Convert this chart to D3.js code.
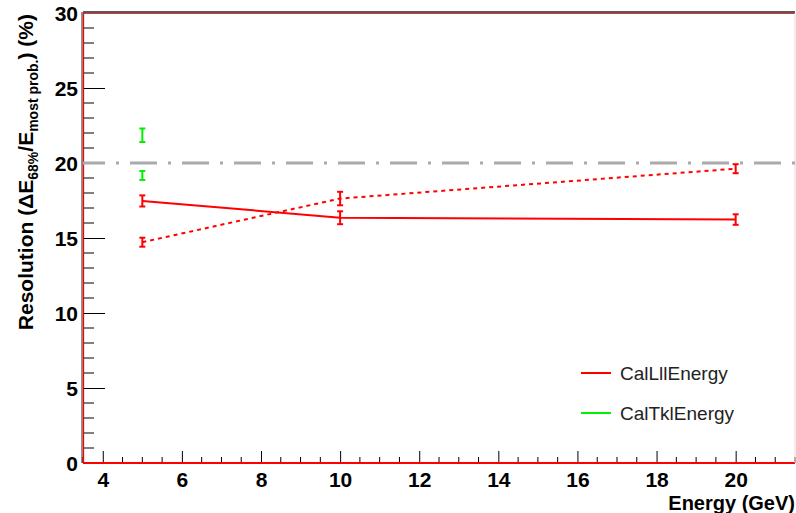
<!DOCTYPE html>
<html>
<head>
<meta charset="utf-8">
<script src="https://cdn.jsdelivr.net/npm/d3@7"></script>
<style>
  html, body { margin: 0; padding: 0; background: #fff; }
  svg { display: block; font-family: "Liberation Sans", Arial, sans-serif; }
</style>
</head>
<body>
<svg id="chart" width="796" height="513"></svg>
<script>
// Energy points (GeV)
const energies = [5, 10, 20];

// CalLllEnergy, two configurations (solid and dotted curves)
const lllSolid = [17.47, 16.35, 16.23];
const lllSolidErr = [0.37, 0.43, 0.35];
const lllDotted = [14.72, 17.63, 19.62];
const lllDottedErr = [0.3, 0.45, 0.3];

// CalTklEnergy, only measured at 5 GeV
const tklEnergies = [5, 5];
const tklValues = [21.85, 19.17];
const tklErr = [0.45, 0.3];

// Reference level (%)
const referenceLevel = 20;

const xTicks = [4, 6, 8, 10, 12, 14, 16, 18, 20];
const yTicks = [0, 5, 10, 15, 20, 25, 30];
const legendLabels = ["CalLllEnergy", "CalTklEnergy"];

const svg = d3.select("#chart");
const frame = { left: 83, right: 795, top: 13, bottom: 463 };

const x = d3.scaleLinear().domain([3.5, 21.5]).range([frame.left, frame.right]);
const y = d3.scaleLinear().domain([0, 30]).range([frame.bottom, frame.top]);

const red = "#ff0000", green = "#00f000", grey = "#aaaaaa";

// Axes: ticks point into the frame
const xMinor = d3.range(3.5, 21.51, 0.5).filter(v => !xTicks.includes(v));
const yMinor = d3.range(0, 30.01, 1).filter(v => !yTicks.includes(v));

const xAxis = svg.append("g").attr("transform", `translate(0,${frame.bottom})`)
  .call(d3.axisBottom(x).tickValues(xTicks).tickFormat(d3.format("d"))
    .tickSizeInner(-12).tickSizeOuter(0).tickPadding(0));
xAxis.append("g").selectAll("line").data(xMinor).join("line")
  .attr("x1", d => x(d)).attr("x2", d => x(d)).attr("y1", 0).attr("y2", -6)
  .attr("stroke", "#000");

const yAxis = svg.append("g").attr("transform", `translate(${frame.left},0)`)
  .call(d3.axisLeft(y).tickValues(yTicks).tickFormat(d3.format("d"))
    .tickSizeInner(-22).tickSizeOuter(0).tickPadding(5));
yAxis.append("g").selectAll("line").data(yMinor).join("line")
  .attr("x1", 0).attr("x2", 11).attr("y1", d => y(d)).attr("y2", d => y(d))
  .attr("stroke", "#000");

[xAxis, yAxis].forEach(g => {
  g.select(".domain").remove();
  g.selectAll(".tick line").attr("stroke", "#000");
  g.selectAll("text").attr("fill", "#000").style("font-size", "21px").style("font-weight", "bold");
});
// x labels: baseline about 24px below the axis
xAxis.selectAll(".tick text").attr("y", 24).attr("dy", null);
yAxis.selectAll(".tick text").attr("dy", "0.36em");

// Frame
svg.append("line").attr("x1", frame.left).attr("x2", frame.right)
  .attr("y1", frame.top - 1).attr("y2", frame.top - 1).attr("stroke", "#222").attr("stroke-width", 1.5);
svg.append("line").attr("x1", frame.left).attr("x2", frame.right)
  .attr("y1", frame.top + 0.5).attr("y2", frame.top + 0.5).attr("stroke", "#d33").attr("stroke-width", 1);
svg.append("line").attr("x1", frame.left - 1).attr("x2", frame.left - 1)
  .attr("y1", frame.top - 1).attr("y2", frame.bottom).attr("stroke", "#222").attr("stroke-width", 1);
svg.append("line").attr("x1", frame.left + 0.5).attr("x2", frame.left + 0.5)
  .attr("y1", frame.top).attr("y2", frame.bottom).attr("stroke", red).attr("stroke-width", 1.3);
svg.append("line").attr("x1", frame.left).attr("x2", frame.right)
  .attr("y1", frame.bottom).attr("y2", frame.bottom).attr("stroke", red).attr("stroke-width", 2);
svg.append("line").attr("x1", frame.right).attr("x2", frame.right)
  .attr("y1", frame.top).attr("y2", frame.bottom).attr("stroke", "#f3d6d6").attr("stroke-width", 1);

// Reference line
svg.append("line").attr("x1", frame.left).attr("x2", frame.right)
  .attr("y1", y(referenceLevel)).attr("y2", y(referenceLevel))
  .attr("stroke", grey).attr("stroke-width", 3)
  .attr("stroke-dasharray", "27,11,3,11").attr("stroke-dashoffset", 5);

// Curves
const line = d3.line().x(d => x(d[0])).y(d => y(d[1]));
svg.append("path").datum(energies.map((e, i) => [e, lllSolid[i]]))
  .attr("d", line).attr("fill", "none").attr("stroke", red).attr("stroke-width", 2);
svg.append("path").datum(energies.map((e, i) => [e, lllDotted[i]]))
  .attr("d", line).attr("fill", "none").attr("stroke", red).attr("stroke-width", 2)
  .attr("stroke-dasharray", "4,4");

// Error bars
function errorBars(xs, vals, errs, color) {
  const g = svg.append("g").attr("stroke", color).attr("stroke-width", 2);
  xs.forEach((e, i) => {
    const cx = x(e), y0 = y(vals[i] - errs[i]), y1 = y(vals[i] + errs[i]);
    g.append("line").attr("x1", cx).attr("x2", cx).attr("y1", y0).attr("y2", y1);
    g.append("line").attr("x1", cx - 3).attr("x2", cx + 3).attr("y1", y0).attr("y2", y0);
    g.append("line").attr("x1", cx - 3).attr("x2", cx + 3).attr("y1", y1).attr("y2", y1);
  });
}
errorBars(energies, lllSolid, lllSolidErr, red);
errorBars(energies, lllDotted, lllDottedErr, red);
errorBars(tklEnergies, tklValues, tklErr, green);

// Legend
const legend = svg.append("g");
[red, green].forEach((c, i) => {
  const ly = 373 + i * 40;
  legend.append("line").attr("x1", 581).attr("x2", 611).attr("y1", ly).attr("y2", ly)
    .attr("stroke", c).attr("stroke-width", 2);
  legend.append("text").attr("x", 620).attr("y", ly).attr("dy", "0.36em")
    .attr("fill", "#222").style("font-size", "19px").text(legendLabels[i]);
});

// Axis titles
svg.append("text").attr("x", 795).attr("y", 510).attr("text-anchor", "end")
  .style("font-size", "20px").style("font-weight", "bold").text("Energy (GeV)");

const yTitle = svg.append("text").attr("transform", "translate(33,14) rotate(-90)")
  .attr("text-anchor", "end").style("font-size", "21px").style("font-weight", "bold");
yTitle.append("tspan").text("Resolution (\u0394E");
yTitle.append("tspan").attr("dy", 5).style("font-size", "14px").text("68%");
yTitle.append("tspan").attr("dy", -5).text("/E");
yTitle.append("tspan").attr("dy", 5).style("font-size", "14px").text("most prob.");
yTitle.append("tspan").attr("dy", -5).text(") (%)");
</script>
</body>
</html>
